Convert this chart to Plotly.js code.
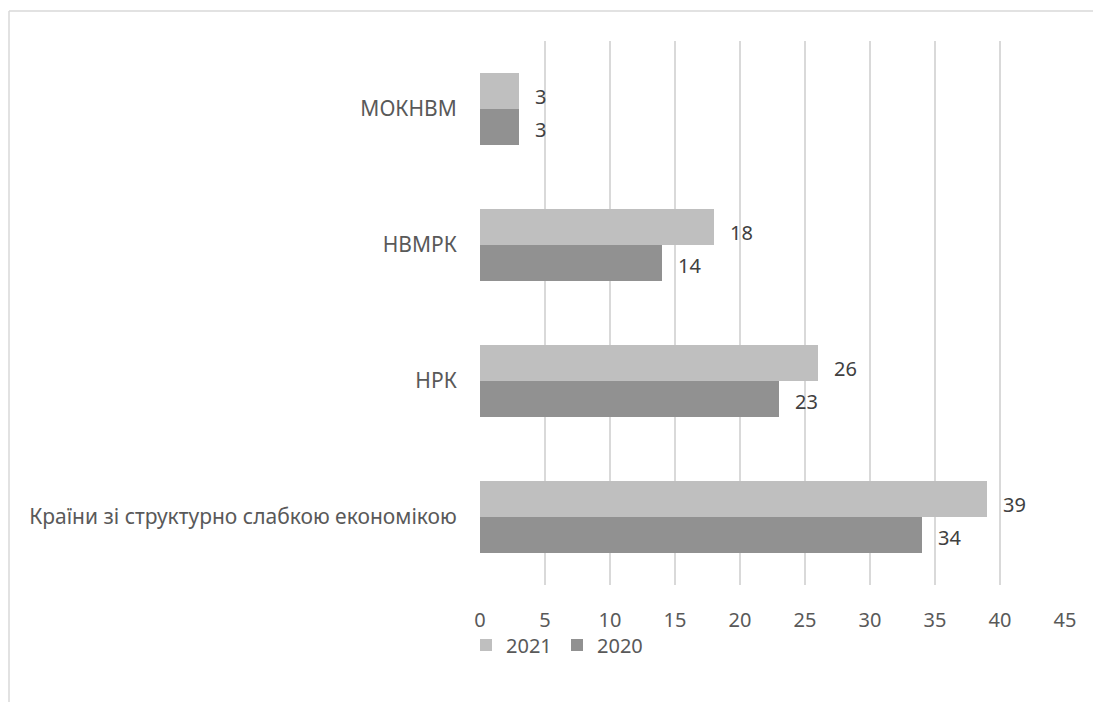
<!DOCTYPE html>
<html>
<head>
<meta charset="utf-8">
<script src="https://cdn.plot.ly/plotly-3.0.1.min.js"></script>
<style>html,body{margin:0;padding:0;background:#fff;}#chart{width:1093px;height:702px;}</style>
</head>
<body>
<div id="chart"></div>
<script>
const categories = ["Країни зі структурно слабкою економікою", "НРК", "НВМРК", "МОКНВМ"];
const values2021 = [39, 26, 18, 3];
const values2020 = [34, 23, 14, 3];
const seriesNames = ["2021", "2020"];
const xTicks = [0, 5, 10, 15, 20, 25, 30, 35, 40, 45];

const W = 1093, H = 702;
const L = 480, R = 28, T = 41, B = 117;
const pw = W - L - R, ph = H - T - B;
const font = "Noto Sans, Open Sans, sans-serif";
const textColor = "#595959";
const fs = 20;

const trace2020 = {
  type: "bar", orientation: "h", name: seriesNames[1],
  x: values2020, y: categories,
  marker: {color: "#919191"}, hoverinfo: "none"
};
const trace2021 = {
  type: "bar", orientation: "h", name: seriesNames[0],
  x: values2021, y: categories,
  marker: {color: "#bfbfbf"}, hoverinfo: "none"
};

const annotations = [];
categories.forEach((c, i) => {
  annotations.push({x: values2021[i], y: c, xref: "x", yref: "y", text: String(values2021[i]),
    showarrow: false, xanchor: "left", yanchor: "middle", xshift: 14, yshift: 13,
    font: {family: font, size: fs, color: "#404040"}});
  annotations.push({x: values2020[i], y: c, xref: "x", yref: "y", text: String(values2020[i]),
    showarrow: false, xanchor: "left", yanchor: "middle", xshift: 14, yshift: -20,
    font: {family: font, size: fs, color: "#404040"}});
});

const layout = {
  width: W, height: H,
  margin: {l: L, r: R, t: T, b: B, pad: 0},
  paper_bgcolor: "#fff", plot_bgcolor: "#fff",
  barmode: "group", bargap: 0.47, bargroupgap: 0,
  showlegend: true,
  legend: {orientation: "h", traceorder: "reversed", x: (557 - L) / pw, xanchor: "center",
    y: -(645 - (T + ph)) / ph, yanchor: "middle", bgcolor: "rgba(0,0,0,0)",
    entrywidth: 46, entrywidthmode: "pixels",
    font: {family: font, size: fs, color: textColor}, itemwidth: 30},
  xaxis: {range: [0, 45], tickvals: xTicks, ticktext: xTicks.map(String),
    showgrid: true, gridcolor: "#d9d9d9", gridwidth: 1.3,
    zeroline: false, showline: false, ticks: "outside", ticklen: 17, tickcolor: "rgba(0,0,0,0)",
    tickfont: {family: font, size: fs, color: textColor}, fixedrange: true},
  yaxis: {type: "category", categoryorder: "array", categoryarray: categories,
    showgrid: false, zeroline: false, showline: false,
    ticks: "outside", ticklen: 18, tickcolor: "rgba(0,0,0,0)",
    tickfont: {family: font, size: 21, color: textColor}, fixedrange: true},
  annotations: annotations,
  shapes: [
    {type: "line", xref: "paper", yref: "paper", x0: (9 - L) / pw, x1: (W + 5 - L) / pw,
      y0: (T + ph - 11) / ph, y1: (T + ph - 11) / ph, line: {color: "#d9d9d9", width: 1.5}},
    {type: "line", xref: "paper", yref: "paper", x0: (9 - L) / pw, x1: (9 - L) / pw,
      y0: (T + ph - 11) / ph, y1: -(H + 5 - T - ph) / ph, line: {color: "#d9d9d9", width: 1.5}}
  ]
};

Plotly.newPlot("chart", [trace2020, trace2021], layout, {displayModeBar: false, staticPlot: true});
</script>
</body>
</html>
